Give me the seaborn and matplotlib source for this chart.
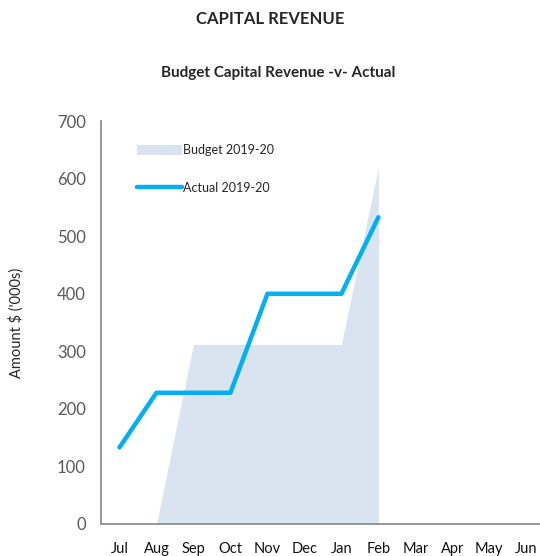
import numpy as np
import pandas as pd
import matplotlib
matplotlib.use("Agg")
import matplotlib.pyplot as plt
import seaborn as sns

months = ["Jul", "Aug", "Sep", "Oct", "Nov", "Dec", "Jan", "Feb", "Mar", "Apr", "May", "Jun"]
budget = [np.nan, 0, 312, 312, 312, 312, 312, 620, np.nan, np.nan, np.nan, np.nan]
actual = [133, 228, 228, 228, 400, 400, 400, 533, np.nan, np.nan, np.nan, np.nan]

sns.set_style("white")
plt.rcParams["font.family"] = ["Lato", "DejaVu Sans"]

df = pd.DataFrame({"month": months, "budget": budget, "actual": actual})
df["pos"] = range(len(df))

fig = plt.figure(figsize=(5.4, 5.56), dpi=100)
ax = fig.add_axes([0.187, 0.0576, 0.822, 0.7245])

# budget as a shaded area, actual as a thick line
ax.fill_between(df["pos"], df["budget"], color="#DAE3F0", linewidth=0, label="Budget 2019-20")
sns.lineplot(data=df, x="pos", y="actual", ax=ax, color="#00B0F0", linewidth=3.2,
             solid_capstyle="round", label="Actual 2019-20")

ax.set_xlim(-0.5, 11.5)
ax.set_ylim(0, 700)
ax.set_yticks(range(0, 701, 100))
ax.set_xticks(df["pos"])
ax.set_xticklabels(months, fontsize=10.5, color="#111111")
ax.set_xticks(np.arange(-0.5, 11.6, 1), minor=True)
ax.tick_params(axis="x", which="major", length=0, pad=13)
ax.tick_params(axis="x", which="minor", length=5, color="#868686", width=1, direction="out")
ax.tick_params(axis="y", length=5, color="#868686", width=1, direction="out",
               labelsize=12, labelcolor="#595959", pad=6)
ax.set_xlabel("")
ax.set_ylabel("Amount $ ('000s)", fontsize=10.5, labelpad=24)

for side in ["top", "right"]:
    ax.spines[side].set_visible(False)
for side in ["left", "bottom"]:
    ax.spines[side].set_color("#868686")
    ax.spines[side].set_linewidth(1.2)

leg = ax.legend(loc="upper left", bbox_to_anchor=(0.055, 0.97), frameon=False,
                fontsize=9, handlelength=3.6, handleheight=0.85, handletextpad=0.1,
                labelspacing=2.05)

fig.text(0.5, 0.965, "CAPITAL REVENUE", ha="center", va="center", fontsize=12, fontweight="bold")
fig.text(0.515, 0.869, "Budget Capital Revenue -v- Actual", ha="center", va="center",
         fontsize=11, fontweight="bold")

fig.savefig("out.png", dpi=100)
